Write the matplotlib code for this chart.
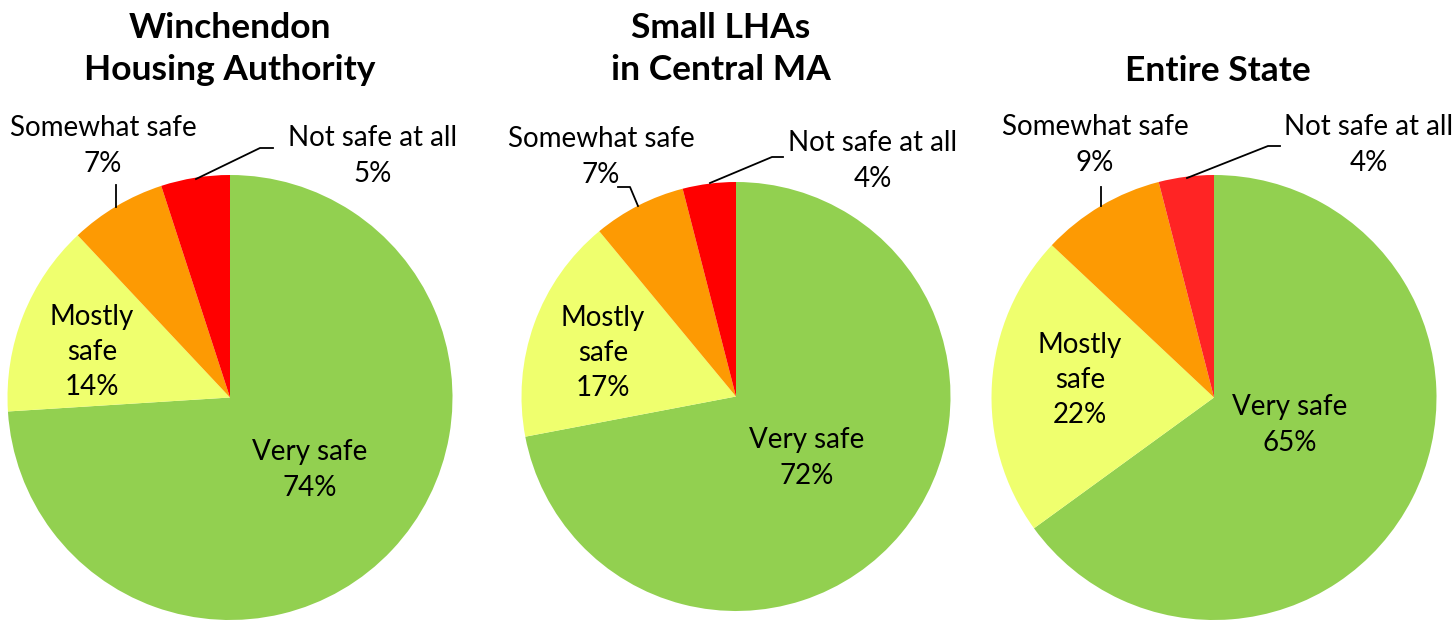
import numpy as np
import matplotlib.pyplot as plt

# data
categories = ["Very safe", "Mostly\nsafe", "Somewhat safe", "Not safe at all"]
titles = ["Winchendon\nHousing Authority", "Small LHAs\nin Central MA", "Entire State"]
winchendon = [74, 14, 7, 5]
small_lhas = [72, 17, 7, 4]
entire_state = [65, 22, 9, 4]
series = [winchendon, small_lhas, entire_state]

green, yellow, orange = "#92D050", "#EFFF6E", "#FD9A03"
reds = ["#FF0000", "#FF0000", "#FF2424"]

W, H = 1456, 621
fig = plt.figure(figsize=(W / 100, H / 100), dpi=100)
ax = fig.add_axes([0, 0, 1, 1])
ax.set_xlim(0, W)
ax.set_ylim(0, H)
ax.set_aspect("equal")
ax.axis("off")

def Y(py):
    return H - py

# layout (pixels, y from top)
centers = [(230, 397.5), (736, 396.5), (1214, 397.5)]
radii = [222.5, 214.5, 222.5]
title_x = [230, 721, 1218]
title_y = [49, 49, 71]
label_pos = [
    [(310, 470), (92, 352), (103, 146), (373, 156)],
    [(807, 458), (603, 353), (601, 157), (873, 161)],
    [(1290, 425), (1080, 380), (1095, 145), (1369, 145)],
]
leaders = [
    [[(116, 185), (116, 207)], [(196, 179), (260, 148), (273, 148)]],
    [[(618, 187), (630, 187), (638, 206)], [(710, 183), (772, 157), (783, 157)]],
    [[(1101, 187), (1101, 206)], [(1187, 178), (1268, 146), (1280, 146)]],
]

font = "Lato"
for i, vals in enumerate(series):
    cx, cy = centers[i]
    ax.pie(vals, colors=[green, yellow, orange, reds[i]], startangle=90,
           counterclock=False, center=(cx, Y(cy)), radius=radii[i],
           wedgeprops=dict(linewidth=0), frame=True)
    ax.text(title_x[i], Y(title_y[i]), titles[i], ha="center", va="center",
            fontsize=25.5, fontweight="bold", family=font, linespacing=1.36)
    for j, (cat, v) in enumerate(zip(categories, vals)):
        lx, ly = label_pos[i][j]
        ax.text(lx, Y(ly), f"{cat}\n{v}%", ha="center", va="center",
                fontsize=20, family=font, linespacing=1.43)
    for pts in leaders[i]:
        xs = [p[0] for p in pts]
        ys = [Y(p[1]) for p in pts]
        ax.plot(xs, ys, color="black", lw=1.3)

ax.set_xlim(0, W)
ax.set_ylim(0, H)
ax.axis("off")
fig.savefig("out.png", dpi=100)
